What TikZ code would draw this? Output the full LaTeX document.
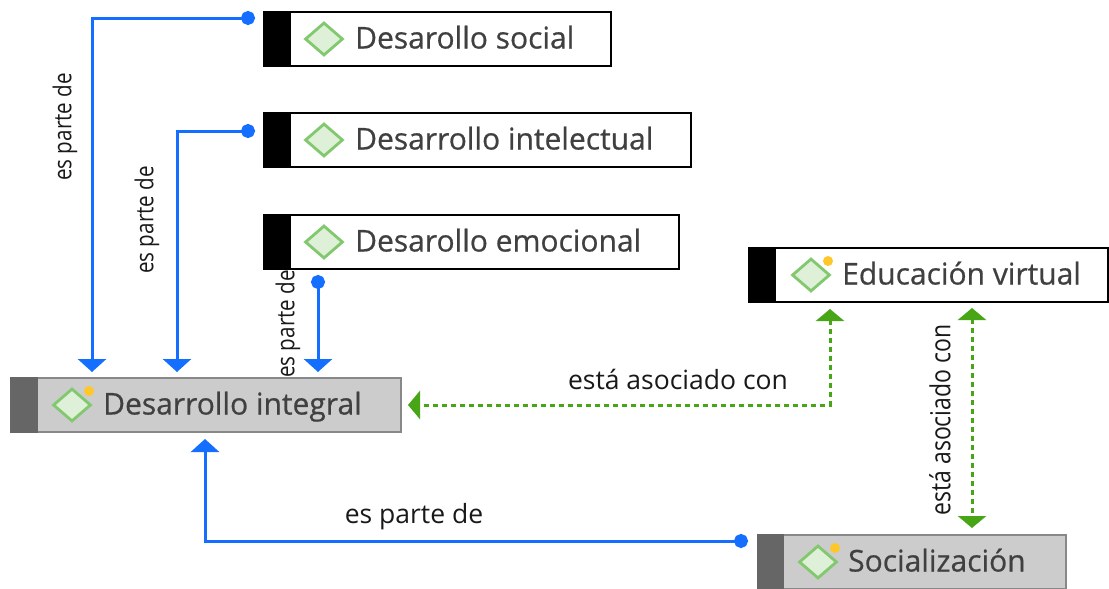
\documentclass[tikz,border=0pt]{standalone}
\usepackage{fontspec}
\setmainfont{Open Sans}
\newfontfamily\boxfont{Open Sans}[FakeBold=0.6]
\usetikzlibrary{shapes.geometric,arrows.meta,calc}
\definecolor{cblue}{RGB}{20,110,255}
\definecolor{cgreen}{RGB}{72,165,22}
\definecolor{dstroke}{RGB}{130,200,110}
\definecolor{dfill}{RGB}{222,240,215}
\definecolor{cyel}{RGB}{255,200,40}
\definecolor{ctext}{RGB}{64,64,64}
\definecolor{gfill}{RGB}{204,204,204}
\definecolor{gstrip}{RGB}{102,102,102}
\definecolor{gborder}{RGB}{136,136,136}
\tikzset{
  wbox/.style={draw=black, line width=2pt, fill=white, inner sep=0pt, anchor=north west, minimum height=54pt},
  gbox/.style={draw=gborder, line width=2pt, fill=gfill, inner sep=0pt, anchor=north west, minimum height=54pt},
  diam/.style={diamond, draw=dstroke, fill=dfill, line width=2.8pt, inner sep=0pt, minimum width=38pt, minimum height=33pt},
  ydot/.style={circle, fill=cyel, inner sep=0pt, minimum size=10pt},
  boxtext/.style={font=\boxfont\fontsize{30}{33}\selectfont, text=ctext, anchor=base west, inner sep=0pt},
  lbl/.style={text=black!90, inner sep=0pt},
  hlbl/.style={lbl, font=\fontsize{26.5}{29}\selectfont},
  vlbl/.style={lbl, rotate=90, yscale=1.2},
  partof/.style={draw=cblue, line width=3pt, {Circle[length=14pt]}-{Triangle[width=28pt,length=13pt]}},
  assoc/.style={draw=cgreen, line width=3pt, dash pattern=on 4.5pt off 4.5pt, {Triangle[width=28pt,length=12pt]}-{Triangle[width=28pt,length=12pt]}}
}
\begin{document}
\begin{tikzpicture}[x=1pt,y=-1pt]
\useasboundingbox (0,0) rectangle (1109,589);
% boxes
\node[wbox, minimum width=347pt] (social) at (263,11) {};
\fill[black] (social.north west) rectangle ([xshift=28pt]social.south west);
\node[diam] (socialicon) at ([xshift=61pt]social.west) {};
\node[boxtext] (socialtxt) at ([xshift=92pt,yshift=-9.5pt]social.west) {Desarollo social};

\node[wbox, minimum width=427pt] (intel) at (263,112) {};
\fill[black] (intel.north west) rectangle ([xshift=28pt]intel.south west);
\node[diam] (intelicon) at ([xshift=61pt]intel.west) {};
\node[boxtext] (inteltxt) at ([xshift=92pt,yshift=-9.5pt]intel.west) {Desarrollo intelectual};

\node[wbox, minimum width=415pt] (emoc) at (263,214) {};
\fill[black] (emoc.north west) rectangle ([xshift=28pt]emoc.south west);
\node[diam] (emocicon) at ([xshift=61pt]emoc.west) {};
\node[boxtext] (emoctxt) at ([xshift=92pt,yshift=-9.5pt]emoc.west) {Desarollo emocional};

\node[wbox, minimum width=359pt] (educ) at (748,247) {};
\fill[black] (educ.north west) rectangle ([xshift=28pt]educ.south west);
\node[diam] (educicon) at ([xshift=63pt]educ.west) {};
\node[ydot] (educdot) at ([xshift=17pt,yshift=14pt]educicon.center) {};
\node[boxtext] (eductxt) at ([xshift=94pt,yshift=-9.5pt]educ.west) {Educación virtual};

\node[gbox, minimum width=390pt] (integral) at (10,377) {};
\fill[gstrip] (integral.north west) rectangle ([xshift=28pt]integral.south west);
\node[diam] (integralicon) at ([xshift=62pt]integral.west) {};
\node[ydot] (integraldot) at ([xshift=17pt,yshift=14pt]integralicon.center) {};
\node[boxtext] (integraltxt) at ([xshift=93pt,yshift=-9.5pt]integral.west) {Desarrollo integral};

\node[gbox, minimum width=308pt] (soc) at (757,534) {};
\fill[gstrip] (soc.north west) rectangle ([xshift=27pt]soc.south west);
\node[diam] (socicon) at ([xshift=61pt]soc.west) {};
\node[ydot] (socdot) at ([xshift=17pt,yshift=14pt]socicon.center) {};
\node[boxtext] (soctxt) at ([xshift=91pt,yshift=-9.5pt]soc.west) {Socialización};

% connectors
\draw[partof, shorten <=8pt, shorten >=5pt] ([yshift=-7pt]social.north west) -| ([xshift=82pt]integral.north west);
\draw[partof, shorten <=8pt, shorten >=5pt] ([yshift=-19pt]intel.north west) -| ([xshift=167pt]integral.north west);
\draw[partof, shorten <=5pt, shorten >=5pt] ([xshift=55pt]emoc.south west) -- ([xshift=308pt]integral.north west);
\draw[partof, shorten <=9pt, shorten >=6pt] ([yshift=-7pt]soc.north west) -| ([xshift=195pt]integral.south west);

\draw[assoc, shorten <=6pt, shorten >=6pt] ([xshift=82pt]educ.south west) |- (integral.east);
\draw[assoc, shorten <=5pt, shorten >=6pt] ([xshift=224pt]educ.south west) -- ([xshift=224pt]educ.south west |- soc.north);

% labels
\node[vlbl, font=\fontsize{20.6}{23}\selectfont] (l1) at (65,127) {es parte de};
\node[vlbl, font=\fontsize{20.6}{23}\selectfont] (l2) at (147,220) {es parte de};
\node[vlbl, font=\fontsize{20.6}{23}\selectfont] (l3) at (288,324) {es parte de};
\node[hlbl] (l4) at (414,517) {es parte de};
\node[hlbl] (l5) at (678,379) {está asociado con};
\node[vlbl, font=\fontsize{23}{26}\selectfont] (l6) at (940,420) {está asociado con};
\end{tikzpicture}
\end{document}
